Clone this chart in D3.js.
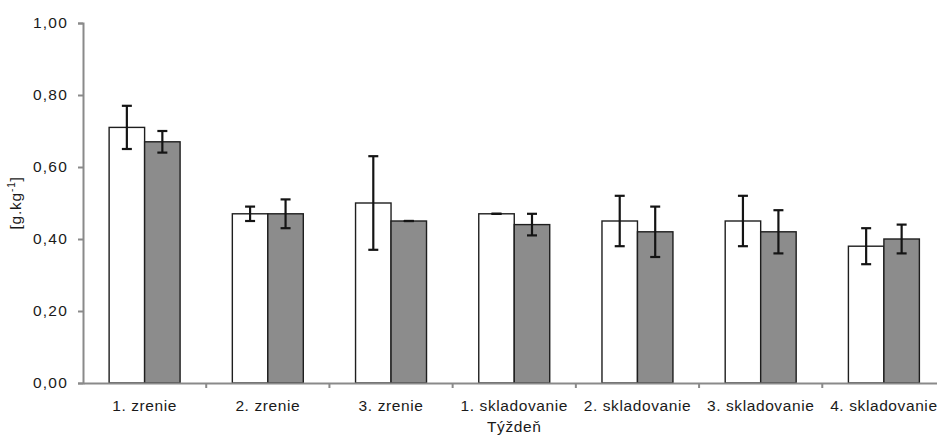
<!DOCTYPE html>
<html>
<head>
<meta charset="utf-8">
<script src="https://cdn.jsdelivr.net/npm/d3@7"></script>
<style>
  html, body { margin: 0; padding: 0; background: #fff; overflow: hidden; }
  svg { display: block; font-family: "Liberation Sans", Arial, sans-serif; }
</style>
</head>
<body>
<svg id="chart" width="937" height="437"></svg>
<script>
// Týždne (x-axis categories)
const categories = ["1. zrenie", "2. zrenie", "3. zrenie", "1. skladovanie", "2. skladovanie", "3. skladovanie", "4. skladovanie"];
// First series (white bars) and its error
const seriesA = [0.71, 0.47, 0.50, 0.47, 0.45, 0.45, 0.38];
const errorA  = [0.06, 0.02, 0.13, 0.00, 0.07, 0.07, 0.05];
// Second series (grey bars) and its error
const seriesB = [0.67, 0.47, 0.45, 0.44, 0.42, 0.42, 0.40];
const errorB  = [0.03, 0.04, 0.00, 0.03, 0.07, 0.06, 0.04];
// Y-axis ticks
const yTicks = [0, 0.2, 0.4, 0.6, 0.8, 1.0];

const svg = d3.select("#chart");
const plotLeft = 83, plotTop = 23, plotBottom = 383, plotRight = 945.5;

const x = d3.scaleBand().domain(categories).range([plotLeft, plotRight]).paddingInner(0).paddingOuter(0);
const y = d3.scaleLinear().domain([0, 1]).range([plotBottom, plotTop]);
const barW = x.bandwidth() * 0.288;

const fmt = v => d3.format(".2f")(v).replace(".", ",");
const axisColor = "#8a8a8a";
const textColor = "#1a1a1a";

// Y axis
const yAxis = svg.append("g").attr("transform", `translate(${plotLeft},0)`)
  .call(d3.axisLeft(y).tickValues(yTicks).tickFormat(fmt).tickSize(5).tickPadding(10));
yAxis.select(".domain").attr("stroke", axisColor).attr("stroke-width", 2);
yAxis.selectAll(".tick line").attr("stroke", axisColor).attr("stroke-width", 2);
yAxis.selectAll(".tick text").attr("fill", textColor).style("font-size", "15.5px").attr("letter-spacing", "1.2px");

// Bars
const groups = categories.map((c, i) => ({ c, i }));
const series = [
  { vals: seriesA, errs: errorA, fill: "#ffffff", off: -barW },
  { vals: seriesB, errs: errorB, fill: "#8c8c8c", off: 0 }
];
series.forEach(s => {
  svg.append("g").selectAll("rect").data(groups).join("rect")
    .attr("x", d => x(d.c) + x.bandwidth() / 2 + s.off)
    .attr("y", d => y(s.vals[d.i]))
    .attr("width", barW)
    .attr("height", d => y(0) - y(s.vals[d.i]))
    .attr("fill", s.fill)
    .attr("stroke", "#1e1e1e")
    .attr("stroke-width", 1.4);
});

// X axis (drawn over bar bottoms)
const xAxis = svg.append("g").attr("transform", `translate(0,${plotBottom})`)
  .call(d3.axisBottom(x).tickSize(0).tickPadding(17));
xAxis.select(".domain").attr("stroke", axisColor).attr("stroke-width", 2);
xAxis.selectAll(".tick text").attr("fill", textColor).style("font-size", "15.5px").attr("letter-spacing", "0.6px");
// Category separators
svg.append("g").selectAll("line").data(categories.slice(1)).join("line")
  .attr("x1", d => x(d)).attr("x2", d => x(d))
  .attr("y1", plotBottom).attr("y2", plotBottom + 5)
  .attr("stroke", axisColor).attr("stroke-width", 2);

// Error bars
series.forEach(s => {
  const g = svg.append("g").attr("stroke", "#141414").attr("stroke-width", 2.2);
  groups.forEach(d => {
    const cx = x(d.c) + x.bandwidth() / 2 + s.off + barW / 2;
    const v = s.vals[d.i], e = s.errs[d.i];
    const y1 = y(v + e), y2 = y(v - e);
    g.append("line").attr("x1", cx).attr("x2", cx).attr("y1", y1).attr("y2", y2);
    g.append("line").attr("x1", cx - 5).attr("x2", cx + 5).attr("y1", y1).attr("y2", y1);
    g.append("line").attr("x1", cx - 5).attr("x2", cx + 5).attr("y1", y2).attr("y2", y2);
  });
});

// Axis titles
svg.append("text")
  .attr("x", (plotLeft + plotRight) / 2).attr("y", 432)
  .attr("text-anchor", "middle").attr("fill", textColor)
  .style("font-size", "15.5px").attr("letter-spacing", "0.6px")
  .text("Týždeň");

const yt = svg.append("text")
  .attr("transform", `translate(21,${(plotTop + plotBottom) / 2}) rotate(-90)`)
  .attr("text-anchor", "middle").attr("fill", textColor)
  .style("font-size", "15.5px").attr("letter-spacing", "0.8px");
yt.append("tspan").text("[g.kg");
yt.append("tspan").attr("dy", -6).style("font-size", "10px").text("-1");
yt.append("tspan").attr("dy", 6).text("]");
</script>
</body>
</html>
